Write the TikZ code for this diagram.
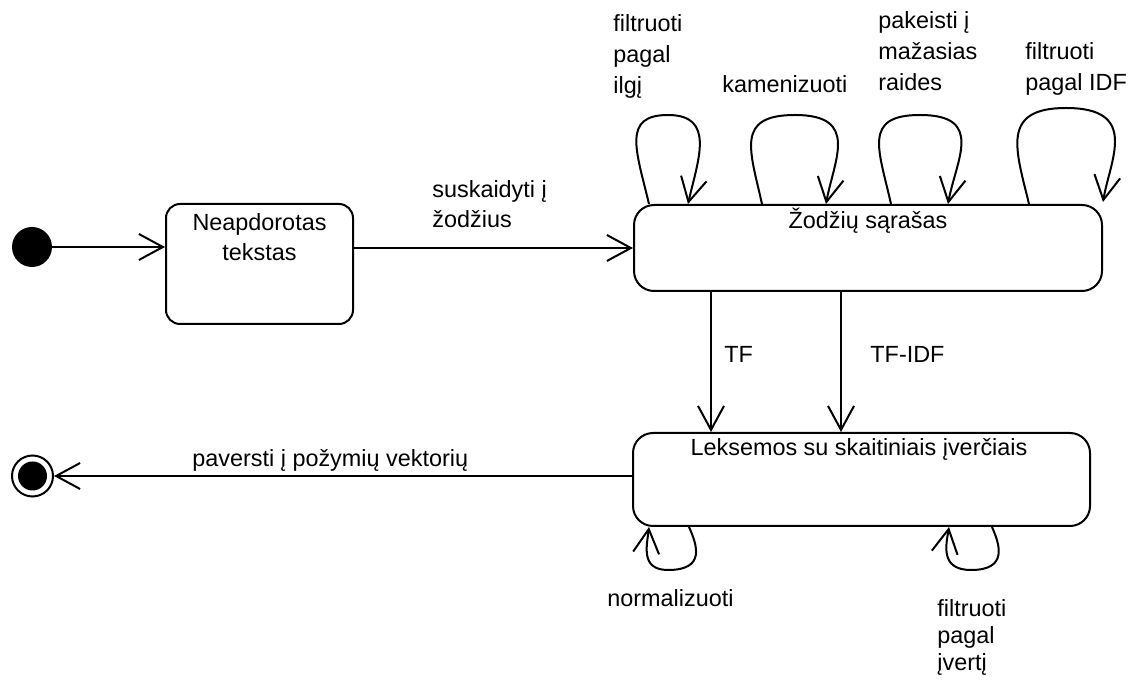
\documentclass[tikz,border=0pt]{standalone}
\usepackage{fontspec}
\setmainfont{Liberation Sans}
\usetikzlibrary{arrows.meta,calc}

\begin{document}
\begin{tikzpicture}[x=0.5pt,y=-0.5pt,
  every node/.style={font=\fontsize{11.7pt}{15pt}\selectfont},
  statebox/.style={draw, line width=1pt, rounded corners=#1, inner sep=0pt},
  flow/.style={draw, line width=1pt, -{Straight Barb[length=12pt,width=13pt]}},
  lbl/.style={anchor=base west, align=left, inner sep=0pt},
  toplbl/.style={lbl, font=\fontsize{11.7pt}{15.5pt}\selectfont},
  boxtext/.style={anchor=base, align=center, inner sep=0pt},
]
\fill[white] (0,0) rectangle (1136,683);
\useasboundingbox (0,0) rectangle (1136,683);

% initial and final pseudo-states
\node[circle, fill, minimum size=20pt, inner sep=0pt] (init) at (32,247) {};
\node[circle, draw, line width=1pt, minimum size=20.5pt, inner sep=0pt] (fin) at (32.5,476) {};
\fill (fin.center) circle (7.25pt);

% states
\node[statebox=7pt, minimum width=93.5pt, minimum height=60pt] (raw) at (259.5,264) {};
\node[statebox=10pt, minimum width=234pt, minimum height=43pt] (words) at (868,248) {};
\node[statebox=10pt, minimum width=228.5pt, minimum height=46.5pt] (lex) at (861.5,479.5) {};

% state names (the base of a multi-line node is its last line)
\node[boxtext] at ($(raw.north)+(0,58)$) {Neapdorotas\\tekstas};
\node[boxtext] at ($(words.north)+(0,25)$) {Žodžių sąrašas};
\node[boxtext] at ($(lex.north)+(-2.5,24)$) {Leksemos su skaitiniais įverčiais};

% transitions between states
\draw[flow] (init) -- (init -| raw.west);
\draw[flow] (raw.east |- words.west) -- (words.west);
\draw[flow] ($(words.south west)+(78,0)$) -- ($(lex.north west)+(79,0)$);
\draw[flow] ($(words.south west)+(208,0)$) -- ($(lex.north west)+(209,0)$);
\draw[flow] (lex.west |- fin) -- (fin);

% self-transitions on the word list
\draw[flow] ($(words.north west)+(16,0)$) .. controls (636,150) and (622,115) .. (668,115)
  .. controls (716,115) and (698,160) .. ($(words.north west)+(55,0)$);
\draw[flow] ($(words.north west)+(129,0)$) .. controls (750,150) and (735,115) .. (795,115)
  .. controls (860,115) and (834,160) .. ($(words.north west)+(193,0)$);
\draw[flow] ($(words.north west)+(258,0)$) .. controls (879,150) and (862,115) .. (920,115)
  .. controls (985,115) and (956,160) .. ($(words.north west)+(315,0)$);
\draw[flow] ($(words.north west)+(396,0)$) .. controls (1016,150) and (1000,108) .. (1066,108)
  .. controls (1140,108) and (1110,160) .. ($(words.north east)+(0,-2)$);

% self-transitions on the weighted tokens
\draw[flow] ($(lex.south west)+(57,0)$) .. controls (697,545) and (706,570) .. (668,570)
  .. controls (640,570) and (647,545) .. ($(lex.south west)+(17,0)$);
\draw[flow] ($(lex.south west)+(360,0)$) .. controls (1000,545) and (1008,570) .. (971,570)
  .. controls (940,570) and (946,545) .. ($(lex.south west)+(317,0)$);

% transition labels
\node[lbl] at (432,228) {suskaidyti į\\žodžius};
\node[lbl] at (724,363) {TF};
\node[lbl] at (870,363) {TF-IDF};
\node[lbl] at (192,467) {paversti į požymių vektorių};
\node[toplbl] at (613,94) {filtruoti\\pagal\\ilgį};
\node[toplbl] at (722,93) {kamenizuoti};
\node[toplbl] at (878,91) {pakeisti į\\mažasias\\raides};
\node[toplbl] at (1025,91) {filtruoti\\pagal IDF};
\node[lbl] at (607,607) {normalizuoti};
\node[lbl, font=\fontsize{11.7pt}{13.5pt}\selectfont] at (937,671) {filtruoti\\pagal\\įvertį};
\end{tikzpicture}
\end{document}
